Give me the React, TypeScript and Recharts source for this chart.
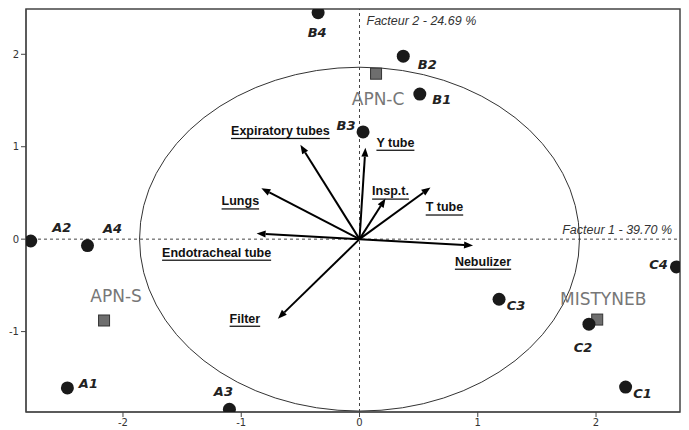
import React from 'react';
import { ScatterChart, Scatter, XAxis, YAxis, ReferenceLine, ReferenceArea } from 'recharts';

// observations (scores on factor 1 / factor 2)
const observations = [
  { name: 'A1', x: -2.47, y: -1.61 },
  { name: 'A2', x: -2.78, y: -0.02 },
  { name: 'A3', x: -1.1, y: -1.84 },
  { name: 'A4', x: -2.3, y: -0.07 },
  { name: 'B1', x: 0.51, y: 1.57 },
  { name: 'B2', x: 0.37, y: 1.98 },
  { name: 'B3', x: 0.03, y: 1.16 },
  { name: 'B4', x: -0.35, y: 2.45 },
  { name: 'C1', x: 2.25, y: -1.6 },
  { name: 'C2', x: 1.94, y: -0.92 },
  { name: 'C3', x: 1.18, y: -0.65 },
  { name: 'C4', x: 2.68, y: -0.3 },
];

// group barycentres
const groups = [
  { name: 'APN-C', x: 0.14, y: 1.79 },
  { name: 'APN-S', x: -2.16, y: -0.88 },
  { name: 'MISTYNEB', x: 2.01, y: -0.87 },
];

// variable vectors
const variables = [
  { name: 'Expiratory tubes', x: -0.5, y: 1.02 },
  { name: 'Lungs', x: -0.83, y: 0.55 },
  { name: 'Endotracheal tube', x: -0.87, y: 0.06 },
  { name: 'Filter', x: -0.69, y: -0.86 },
  { name: 'Y tube', x: 0.05, y: 0.99 },
  { name: 'Insp.t.', x: 0.22, y: 0.44 },
  { name: 'T tube', x: 0.6, y: 0.56 },
  { name: 'Nebulizer', x: 0.96, y: -0.07 },
];

const xTicks = [-2, -1, 0, 1, 2];
const yTicks = [-1, 0, 1, 2];
const xDomain = [-2.82, 2.71];
const yDomain = [-1.87, 2.49];
const circleRadius = 1.86;
const factor1Label = 'Facteur 1 - 39.70 %';
const factor2Label = 'Facteur 2 - 24.69 %';

// label placement (pixels, relative to mark)
const obsLabelOffset: Record<string, [number, number]> = {
  A1: [21, -4], A2: [31, -14], A3: [-6, -18], A4: [25, -17],
  B1: [22, 5], B2: [24, 8], B3: [-17, -6], B4: [-1, 20],
  C1: [17, 6], C2: [-6, 23], C3: [17, 6], C4: [-18, -2],
};
const groupLabelOffset: Record<string, [number, number]> = {
  'APN-C': [2, 25], 'APN-S': [12, -24], MISTYNEB: [6, -21],
};
const varLabelOffset: Record<string, [number, number]> = {
  'Expiratory tubes': [-20, -14],
  Lungs: [-21, 13],
  'Endotracheal tube': [-40, 19],
  Filter: [-33, 0],
  'Y tube': [30, -5],
  'Insp.t.': [5, -7],
  'T tube': [14, 20],
  Nebulizer: [10, 16],
};

const ObsDot = (props: any) => {
  const { cx, cy, payload } = props;
  const [dx, dy] = obsLabelOffset[payload.name];
  return (
    <g>
      <circle cx={cx} cy={cy} r={6.5} fill="#1a1a1a" />
      <text x={cx + dx} y={cy + dy} textAnchor="middle" dominantBaseline="central"
        fontFamily="DejaVu Sans" fontSize={13} fontWeight="bold" fontStyle="italic" fill="#222">
        {payload.name}
      </text>
    </g>
  );
};

const GroupSquare = (props: any) => {
  const { cx, cy, payload } = props;
  const [dx, dy] = groupLabelOffset[payload.name];
  return (
    <g>
      <rect x={cx - 5.5} y={cy - 5.5} width={11} height={11} fill="#6e6e6e" stroke="#333" strokeWidth={1} />
      <text x={cx + dx} y={cy + dy} textAnchor="middle" dominantBaseline="central"
        fontFamily="DejaVu Sans" fontSize={17} fill="#777">
        {payload.name}
      </text>
    </g>
  );
};

const Arrow = (props: any) => {
  const { x1, y1, x2, y2, name } = props;
  const ang = Math.atan2(y2 - y1, x2 - x1);
  const L = 9;
  const W = 3.5;
  const bx = x2 - L * Math.cos(ang);
  const by = y2 - L * Math.sin(ang);
  const pts = `${x2},${y2} ${bx + W * Math.sin(ang)},${by - W * Math.cos(ang)} ${bx - W * Math.sin(ang)},${by + W * Math.cos(ang)}`;
  const [dx, dy] = varLabelOffset[name];
  return (
    <g>
      <line x1={x1} y1={y1} x2={bx} y2={by} stroke="#000" strokeWidth={2} />
      <polygon points={pts} fill="#000" />
      <text x={x2 + dx} y={y2 + dy} textAnchor="middle" dominantBaseline="central"
        fontFamily="Liberation Sans" fontSize={12.5} fontWeight="bold" fill="#111"
        textDecoration="underline">
        {name}
      </text>
    </g>
  );
};

const CircleShape = (props: any) => {
  const { x, y, width, height } = props;
  return (
    <ellipse cx={x + width / 2} cy={y + height / 2} rx={width / 2} ry={height / 2}
      fill="none" stroke="#333" strokeWidth={1} />
  );
};

const FrameShape = (props: any) => {
  const { x, y, width, height } = props;
  return <rect x={x} y={y} width={width} height={height} fill="none" stroke="#444" strokeWidth={1.5} />;
};

const VAxisLine = (props: any) => {
  const { x1, y1, x2, y2 } = props;
  return (
    <g>
      <line x1={x1} y1={y1} x2={x2} y2={y2} stroke="#444" strokeDasharray="3 3" />
      <text x={x1 + 7} y={Math.min(y1, y2) + 16} fontFamily="Liberation Sans" fontSize={12.5}
        fontStyle="italic" fill="#333">{factor2Label}</text>
    </g>
  );
};

const HAxisLine = (props: any) => {
  const { x1, y1, x2, y2 } = props;
  return (
    <g>
      <line x1={x1} y1={y1} x2={x2} y2={y2} stroke="#444" strokeDasharray="3 3" />
      <text x={Math.max(x1, x2) - 8} y={y1 - 5} textAnchor="end" fontFamily="Liberation Sans" fontSize={12.5}
        fontStyle="italic" fill="#333">{factor1Label}</text>
    </g>
  );
};

export default function App() {
  return (
    <div style={{ position: 'absolute', left: 0, top: 0, background: '#fff' }}>
      <ScatterChart width={689} height={430} margin={{ top: 9, right: 9, bottom: 0, left: 0 }}>
        <XAxis type="number" dataKey="x" domain={xDomain} ticks={xTicks} allowDataOverflow
          height={18} tickSize={5} stroke="#444"
          tick={{ fontSize: 10, fill: '#333', fontFamily: 'DejaVu Sans' }} />
        <YAxis type="number" dataKey="y" domain={yDomain} ticks={yTicks} allowDataOverflow
          width={26} tickSize={5} stroke="#444"
          tick={{ fontSize: 10, fill: '#333', fontFamily: 'DejaVu Sans' }} />
        <ReferenceArea x1={xDomain[0]} x2={xDomain[1]} y1={yDomain[0]} y2={yDomain[1]}
          ifOverflow="visible" shape={FrameShape} />
        <ReferenceArea x1={-circleRadius} x2={circleRadius} y1={-circleRadius} y2={circleRadius}
          ifOverflow="visible" shape={CircleShape} />
        <ReferenceLine x={0} shape={VAxisLine} />
        <ReferenceLine y={0} shape={HAxisLine} />
        {variables.map((v) => (
          <ReferenceLine key={v.name} segment={[{ x: 0, y: 0 }, { x: v.x, y: v.y }]}
            ifOverflow="visible" shape={(p: any) => <Arrow {...p} name={v.name} />} />
        ))}
        <Scatter data={groups} shape={GroupSquare} isAnimationActive={false} />
        <Scatter data={observations} shape={ObsDot} isAnimationActive={false} />
      </ScatterChart>
    </div>
  );
}
